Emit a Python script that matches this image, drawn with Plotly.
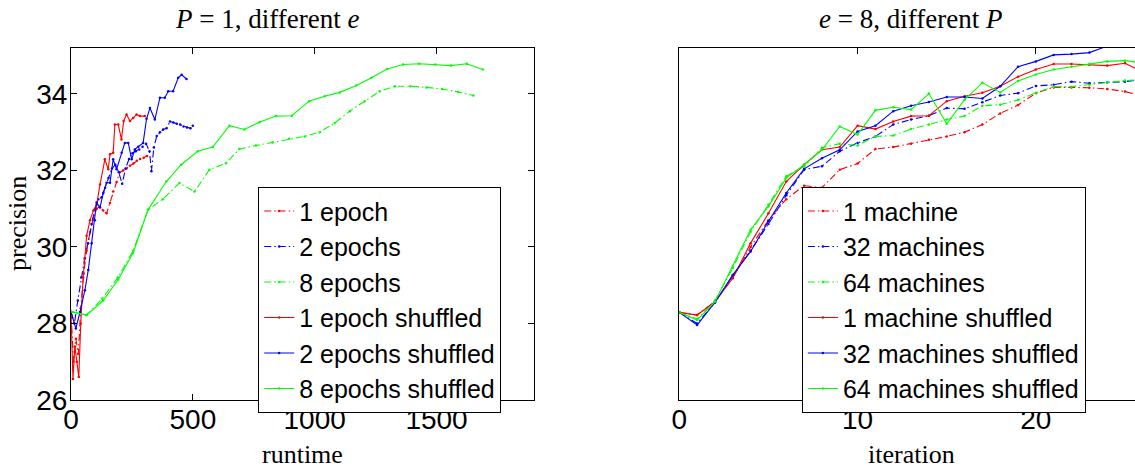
import plotly.graph_objects as go

# ---------------- data: left panel (P = 1, different e) ----------------
ep1_x = [0, 10, 20, 30, 40, 52, 64, 78, 92, 105, 118, 132, 146, 160, 173, 187, 200, 214, 228, 242, 256, 270, 284, 298, 312]
ep1_y = [28.3, 27.0, 27.6, 27.2, 28.4, 29.3, 29.9, 30.4, 30.75, 31.0, 31.05, 30.95, 30.88, 31.15, 31.45, 31.7, 31.95, 32.0, 32.05, 32.12, 32.18, 32.25, 32.3, 32.33, 32.38]

ep2_x = [0, 14, 28, 42, 56, 70, 84, 98, 112, 126, 140, 154, 168, 182, 196, 210, 224, 238, 252, 266, 280, 294, 308, 322, 330, 340, 352, 365, 378, 392, 406, 420, 434, 448, 462, 476, 490, 500]
ep2_y = [28.3, 28.0, 28.6, 29.2, 29.7, 30.1, 30.6, 31.0, 31.25, 31.3, 31.55, 31.8, 32.05, 32.15, 31.95, 31.65, 32.05, 32.3, 32.45, 32.5, 32.55, 32.62, 32.7, 32.5, 31.98, 32.6, 32.9, 33.0, 33.07, 33.1, 33.28, 33.25, 33.22, 33.2, 33.15, 33.12, 33.1, 33.17]

ep8_x = [0, 64, 128, 192, 255, 316, 377, 445, 507, 568, 636, 691, 759, 827, 895, 959, 1021, 1082, 1144, 1205, 1267, 1329, 1393, 1459, 1523, 1589, 1651]
ep8_y = [28.31, 28.22, 28.65, 29.2, 29.9, 30.97, 31.25, 31.67, 31.45, 32.02, 32.19, 32.56, 32.65, 32.73, 32.83, 32.89, 33.0, 33.24, 33.55, 33.81, 34.07, 34.2, 34.2, 34.17, 34.13, 34.05, 33.96]

ep1s_x = [0, 8, 16, 24, 32, 40, 50, 64, 78, 92, 105, 119, 139, 153, 160, 173, 180, 194, 207, 216, 228, 242, 255, 269, 283, 303]
ep1s_y = [28.3, 26.55, 27.4, 27.0, 26.6, 28.0, 29.2, 30.29, 30.7, 30.95, 31.1, 31.63, 32.29, 32.03, 32.42, 32.46, 33.2, 33.2, 32.81, 33.29, 33.46, 33.29, 33.37, 33.46, 33.42, 33.42]

ep2s_x = [0, 20, 37, 57, 71, 85, 98, 105, 119, 133, 146, 160, 173, 187, 208, 221, 235, 249, 262, 276, 296, 310, 324, 344, 365, 385, 399, 419, 440, 454, 474]
ep2s_y = [28.3, 27.87, 28.3, 28.87, 29.4, 30.1, 30.7, 31.16, 31.03, 31.42, 31.68, 31.68, 32.29, 32.03, 32.46, 32.72, 32.72, 32.29, 32.55, 32.62, 32.72, 33.35, 33.63, 33.33, 33.9, 33.9, 34.07, 34.07, 34.42, 34.5, 34.39]

ep8s_x = [0, 64, 132, 194, 255, 316, 391, 452, 520, 582, 650, 711, 773, 841, 906, 977, 1041, 1103, 1171, 1233, 1297, 1363, 1429, 1495, 1559, 1624, 1690]
ep8s_y = [28.31, 28.22, 28.6, 29.15, 29.85, 30.97, 31.71, 32.15, 32.5, 32.61, 33.17, 33.07, 33.26, 33.42, 33.43, 33.81, 33.94, 34.04, 34.22, 34.42, 34.65, 34.77, 34.79, 34.77, 34.74, 34.79, 34.64]

# ---------------- data: right panel (e = 8, different P) ----------------
iters = list(range(27))
m1_y = [28.29, 28.22, 28.57, 29.2, 30.0, 30.7, 31.25, 31.6, 31.55, 32.02, 32.18, 32.56, 32.61, 32.7, 32.8, 32.89, 33.0, 33.2, 33.49, 33.71, 34.02, 34.17, 34.17, 34.16, 34.13, 34.06, 33.95]
m32_y = [28.29, 28.0, 28.55, 29.25, 29.9, 30.6, 31.35, 32.02, 32.11, 32.5, 32.72, 32.89, 33.2, 33.33, 33.43, 33.63, 33.61, 33.78, 33.96, 34.02, 34.21, 34.24, 34.32, 34.28, 34.3, 34.32, 34.38]
m64_y = [28.29, 28.12, 28.6, 29.45, 30.4, 31.1, 31.85, 32.1, 32.59, 32.7, 32.65, 32.89, 32.91, 33.08, 33.2, 33.33, 33.42, 33.69, 33.72, 33.84, 34.03, 34.19, 34.19, 34.24, 34.3, 34.35, 34.37]
m1s_y = [28.29, 28.22, 28.57, 29.18, 30.1, 30.88, 31.71, 32.15, 32.54, 32.61, 33.17, 33.08, 33.28, 33.42, 33.43, 33.81, 33.94, 34.03, 34.2, 34.45, 34.64, 34.78, 34.78, 34.76, 34.74, 34.8, 34.57]
m32s_y = [28.29, 27.96, 28.55, 29.27, 29.88, 30.67, 31.41, 32.04, 32.32, 32.54, 33.02, 33.17, 33.55, 33.69, 33.79, 33.92, 33.92, 33.88, 34.2, 34.71, 34.85, 35.02, 35.04, 35.08, 35.25, 35.35, 35.4]
m64s_y = [28.29, 28.09, 28.57, 29.49, 30.45, 31.06, 31.8, 32.15, 32.54, 33.15, 32.94, 33.57, 33.65, 33.59, 34.01, 33.22, 33.85, 34.29, 34.04, 34.34, 34.51, 34.64, 34.71, 34.78, 34.85, 34.87, 34.8]

RED, BLUE, GREEN = "#ff0000", "#0000ff", "#00ff00"
DASHDOT = "7px,3px,1.5px,3px"
SANS = "Liberation Sans, Arial, sans-serif"
SERIF = "Liberation Serif, Times New Roman, serif"

fig = go.Figure()

left = [
    ("1 epoch", ep1_x, ep1_y, RED, DASHDOT),
    ("2 epochs", ep2_x, ep2_y, BLUE, DASHDOT),
    ("8 epochs", ep8_x, ep8_y, GREEN, DASHDOT),
    ("1 epoch shuffled", ep1s_x, ep1s_y, RED, "solid"),
    ("2 epochs shuffled", ep2s_x, ep2s_y, BLUE, "solid"),
    ("8 epochs shuffled", ep8s_x, ep8s_y, GREEN, "solid"),
]
for name, xs, ys, c, d in left:
    fig.add_trace(go.Scatter(x=xs, y=ys, name=name, mode="lines+markers",
                             line=dict(color=c, width=1.1, dash=d),
                             marker=dict(color=c, size=2.5),
                             xaxis="x", yaxis="y", legend="legend"))

right = [
    ("1 machine", m1_y, RED, DASHDOT),
    ("32 machines", m32_y, BLUE, DASHDOT),
    ("64 machines", m64_y, GREEN, DASHDOT),
    ("1 machine shuffled", m1s_y, RED, "solid"),
    ("32 machines shuffled", m32s_y, BLUE, "solid"),
    ("64 machines shuffled", m64s_y, GREEN, "solid"),
]
for name, ys, c, d in right:
    fig.add_trace(go.Scatter(x=iters, y=ys, name=name, mode="lines+markers",
                             line=dict(color=c, width=1.1, dash=d),
                             marker=dict(color=c, size=2.5),
                             xaxis="x2", yaxis="y2", legend="legend2"))

W, H = 1135, 468
ydom = [(H - 400) / H, (H - 48) / H]
tickfont = dict(family=SANS, size=28, color="black")
common = dict(showgrid=False, zeroline=False, showline=True, linecolor="black", linewidth=1.2,
              ticks="inside", ticklen=6, tickcolor="black", mirror="ticks", tickfont=tickfont)

fig.update_layout(
    width=W, height=H,
    margin=dict(l=0, r=0, t=0, b=0, autoexpand=False),
    plot_bgcolor="white", paper_bgcolor="white",
    xaxis=dict(domain=[71 / W, 534 / W], range=[0, 1900], tickvals=[0, 500, 1000, 1500],
               anchor="y", ticklabelstandoff=-6, **common),
    yaxis=dict(domain=ydom, range=[26, 35.2], tickvals=[26, 28, 30, 32, 34],
               anchor="x", ticklabelstandoff=-3, **common),
    xaxis2=dict(domain=[679.3 / W, 1.0], range=[0, 25.56], tickvals=[0, 10, 20],
                anchor="y2", ticklabelstandoff=-6, **common),
    yaxis2=dict(domain=ydom, range=[26, 35.2], showgrid=False, zeroline=False, showline=True,
                linecolor="black", linewidth=1.2, ticks="", showticklabels=False,
                mirror=False, anchor="x2"),
    legend=dict(x=258 / W, y=(H - 187) / H, xanchor="left", yanchor="top",
                bgcolor="white", bordercolor="black", borderwidth=1.2,
                font=dict(family=SANS, size=25, color="black"), tracegroupgap=0,
                itemwidth=30, entrywidth=226, entrywidthmode="pixels"),
    legend2=dict(x=801.7 / W, y=(H - 187) / H, xanchor="left", yanchor="top",
                 bgcolor="white", bordercolor="black", borderwidth=1.2,
                 font=dict(family=SANS, size=25, color="black"), tracegroupgap=0,
                 itemwidth=30, entrywidth=330, entrywidthmode="pixels"),
    showlegend=True,
)

ann = dict(showarrow=False, xref="paper", yref="paper", xanchor="center", yanchor="middle")
fig.add_annotation(text="<i>P</i> = 1, different <i>e</i>", x=267 / W, y=(H - 19) / H,
                   font=dict(family=SERIF, size=27, color="black"), **ann)
fig.add_annotation(text="<i>e</i> = 8, different <i>P</i>", x=910 / W, y=(H - 19) / H,
                   font=dict(family=SERIF, size=27, color="black"), **ann)
fig.add_annotation(text="runtime", x=302 / W, y=(H - 454) / H,
                   font=dict(family=SERIF, size=26, color="black"), **ann)
fig.add_annotation(text="iteration", x=911 / W, y=(H - 454) / H,
                   font=dict(family=SERIF, size=26, color="black"), **ann)
fig.add_annotation(text="precision", x=18 / W, y=(H - 224) / H, textangle=-90,
                   font=dict(family=SERIF, size=26, color="black"), **ann)

fig.write_html("out.html", config={"displayModeBar": False},
               post_script="document.body.style.margin='0';")
